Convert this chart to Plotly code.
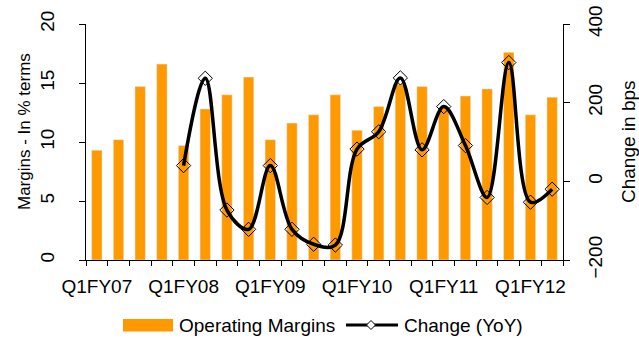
import plotly.graph_objects as go

# Quarterly operating margins (%) and their year-on-year change (bps)
quarters = ["Q1FY07", "Q2FY07", "Q3FY07", "Q4FY07",
            "Q1FY08", "Q2FY08", "Q3FY08", "Q4FY08",
            "Q1FY09", "Q2FY09", "Q3FY09", "Q4FY09",
            "Q1FY10", "Q2FY10", "Q3FY10", "Q4FY10",
            "Q1FY11", "Q2FY11", "Q3FY11", "Q4FY11",
            "Q1FY12", "Q2FY12"]
operating_margins = [9.3, 10.2, 14.7, 16.6,
                     9.7, 12.8, 14.0, 15.5,
                     10.2, 11.6, 12.3, 14.0,
                     11.0, 13.0, 14.9, 14.7,
                     12.9, 13.9, 14.5, 17.6,
                     12.3, 13.8]
change_yoy = [None, None, None, None,
              40, 262, -73, -122,
              40, -122, -160, -162,
              82, 126, 263, 80,
              190, 91, -41, 302,
              -53, -20]
label_quarters = ["Q1FY07", "Q1FY08", "Q1FY09", "Q1FY10", "Q1FY11", "Q1FY12"]
margin_ticks = [0, 5, 10, 15, 20]
change_ticks = [-200, 0, 200, 400]

W, H = 639, 338
L, R, T, B = 86, 76, 24, 78
PW, PH = W - L - R, H - T - B
ORANGE = "#FF9900"
FONT = "Liberation Sans, Arial, sans-serif"
CLEAR = "rgba(0,0,0,0)"

xpos = list(range(len(quarters)))
label_pos = [quarters.index(q) for q in label_quarters]


def px_x(p):
    return (p - L) / PW


def px_y(p):
    return (H - B - p) / PH


fig = go.Figure()
fig.add_trace(go.Bar(x=xpos, y=operating_margins, marker_color=ORANGE,
                     width=0.48, name="Operating Margins", yaxis="y"))
fig.add_trace(go.Scatter(x=xpos, y=change_yoy, mode="lines+markers",
                         line=dict(color="black", width=3.5, shape="spline", smoothing=1.0),
                         marker=dict(symbol="diamond-open", size=11, color="black",
                                     line=dict(width=1, color="black")),
                         connectgaps=False, name="Change (YoY)", yaxis="y2"))

# Major ticks are invisible and only set the label distance;
# the visible tick marks are drawn as minor ticks.
fig.update_layout(
    width=W, height=H,
    margin=dict(l=L, r=R, t=T, b=B, autoexpand=False),
    plot_bgcolor="white", paper_bgcolor="white",
    showlegend=False,
    font=dict(family=FONT, size=19, color="black"),
    xaxis=dict(range=[-0.5, len(quarters) - 0.5], tickmode="array",
               tickvals=label_pos, ticktext=label_quarters,
               ticks="outside", ticklen=9, tickcolor=CLEAR,
               showline=True, linecolor="black", linewidth=1,
               showgrid=False, zeroline=False,
               minor=dict(tickvals=[i - 0.5 for i in range(len(quarters) + 1)],
                          ticks="outside", ticklen=5, tickcolor="black",
                          tickwidth=1, showgrid=False),
               tickfont=dict(size=19)),
    yaxis=dict(range=[0, 20], tickmode="array", tickvals=margin_ticks,
               tickangle=-90, ticks="outside", ticklen=23, tickcolor=CLEAR,
               minor=dict(tickvals=margin_ticks, ticks="outside", ticklen=6,
                          tickcolor="black", tickwidth=1, showgrid=False),
               showline=True, linecolor="black", linewidth=1,
               showgrid=False, zeroline=False, tickfont=dict(size=19)),
    yaxis2=dict(range=[-200, 400], tickmode="array", tickvals=change_ticks,
                tickangle=-90, overlaying="y", side="right",
                ticks="outside", ticklen=15, tickcolor=CLEAR,
                minor=dict(tickvals=change_ticks, ticks="outside", ticklen=6,
                           tickcolor="black", tickwidth=1, showgrid=False),
                showline=True, linecolor="black", linewidth=1,
                showgrid=False, zeroline=False, tickfont=dict(size=19)),
)

# axis titles
fig.add_annotation(text="Margins - In % terms", xref="paper", yref="paper",
                   x=px_x(24), y=px_y(132), textangle=-90, showarrow=False,
                   xanchor="center", yanchor="middle", font=dict(size=17))
fig.add_annotation(text="Change in bps", xref="paper", yref="paper",
                   x=px_x(628), y=px_y(142), textangle=-90, showarrow=False,
                   xanchor="center", yanchor="middle", font=dict(size=19))

# legend drawn below the plot
ly = 325
fig.add_shape(type="rect", xref="paper", yref="paper",
              x0=px_x(123), x1=px_x(173), y0=px_y(319), y1=px_y(331.5),
              fillcolor=ORANGE, line=dict(width=0))
fig.add_annotation(text="Operating Margins", xref="paper", yref="paper",
                   x=px_x(177), y=px_y(ly), showarrow=False,
                   xanchor="left", yanchor="middle")
fig.add_shape(type="line", xref="paper", yref="paper",
              x0=px_x(346), x1=px_x(398), y0=px_y(ly), y1=px_y(ly),
              line=dict(color="black", width=3))
cx, cy, d = 371, ly, 4.5
fig.add_shape(type="path", xref="paper", yref="paper",
              path=(f"M {px_x(cx - d)} {px_y(cy)} L {px_x(cx)} {px_y(cy - d)} "
                    f"L {px_x(cx + d)} {px_y(cy)} L {px_x(cx)} {px_y(cy + d)} Z"),
              fillcolor="white", line=dict(color="black", width=1))
fig.add_annotation(text="Change (YoY)", xref="paper", yref="paper",
                   x=px_x(402), y=px_y(ly), showarrow=False,
                   xanchor="left", yanchor="middle")

fig.write_html("out.html")
